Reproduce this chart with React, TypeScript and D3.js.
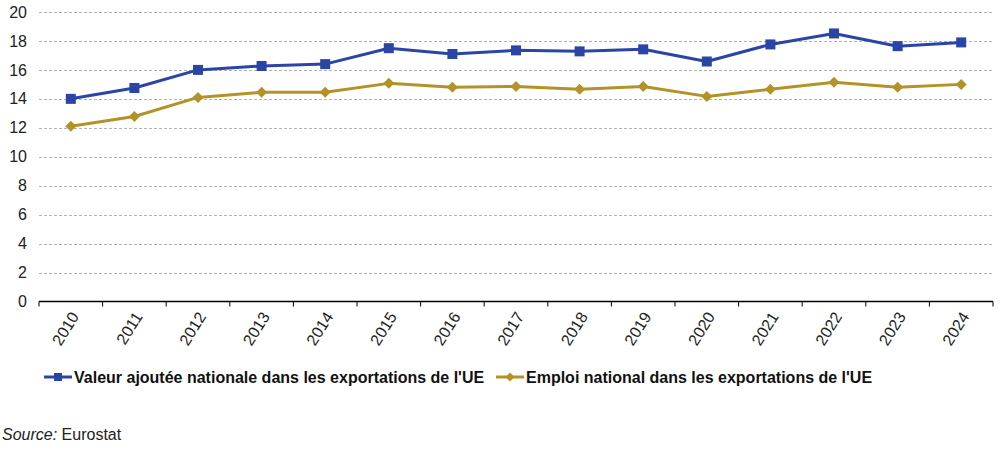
import * as d3 from "d3";

const years = ["2010", "2011", "2012", "2013", "2014", "2015", "2016", "2017", "2018", "2019", "2020", "2021", "2022", "2023", "2024"];
const valeurAjoutee = [14.0, 14.75, 16.0, 16.27, 16.4, 17.5, 17.1, 17.35, 17.28, 17.42, 16.58, 17.76, 18.52, 17.64, 17.9];
const emploi = [12.1, 12.78, 14.1, 14.45, 14.45, 15.07, 14.8, 14.86, 14.67, 14.86, 14.17, 14.66, 15.14, 14.8, 15.0];
const yTicks = [0, 2, 4, 6, 8, 10, 12, 14, 16, 18, 20];

const W = 999;
const H = 454;
const margin = { left: 39, right: 6, top: 12, bottom: 153 };
const font = "Arial, 'Liberation Sans', sans-serif";

const series = [
  { name: "Valeur ajoutée nationale dans les exportations de l'UE", values: valeurAjoutee, color: "#2a45a6", marker: "square" },
  { name: "Emploi national dans les exportations de l'UE", values: emploi, color: "#b39326", marker: "diamond" },
];

export default function App() {
  const x = d3
    .scaleBand()
    .domain(years)
    .range([margin.left, W - margin.right]);
  const y = d3
    .scaleLinear()
    .domain([0, 20])
    .range([H - margin.bottom + 0.5, margin.top]);
  const cx = (d: string) => x(d)! + x.bandwidth() / 2;

  const line = d3
    .line<number>()
    .x((_, i) => cx(years[i]))
    .y((v) => y(v));

  const marker = (kind: string, px: number, py: number, color: string, key: string) =>
    kind === "square" ? (
      <rect key={key} x={px - 5} y={py - 5} width={10} height={10} fill={color} />
    ) : (
      <path key={key} d={`M${px},${py - 5.5}L${px + 5.5},${py}L${px},${py + 5.5}L${px - 5.5},${py}Z`} fill={color} />
    );

  const legendPos = [44, 496];

  return (
    <svg
      width={W}
      height={H}
      style={{ position: "absolute", left: 0, top: 0, background: "#fff" }}
      fontFamily={font}
    >
      {/* grid */}
      {yTicks.slice(1).map((t) => (
        <line
          key={t}
          x1={margin.left}
          x2={W - margin.right}
          y1={Math.round(y(t)) + 0.5}
          y2={Math.round(y(t)) + 0.5}
          stroke="#b4b4b4"
          strokeWidth={1}
          strokeDasharray="3,2"
        />
      ))}
      {/* y labels */}
      {yTicks.map((t) => (
        <text key={t} x={27} y={y(t)} dy="0.35em" fontSize={16} textAnchor="end" fill="#222">
          {t}
        </text>
      ))}
      {/* x axis */}
      <line x1={margin.left} x2={W - margin.right} y1={y(0)} y2={y(0)} stroke="#000" strokeWidth={1.3} />
      {years.map((yr) => (
        <line key={yr} x1={x(yr)!} x2={x(yr)!} y1={y(0)} y2={y(0) + 5} stroke="#000" strokeWidth={1} />
      ))}
      <line x1={W - margin.right} x2={W - margin.right} y1={y(0)} y2={y(0) + 5} stroke="#000" />
      {years.map((yr) => (
        <text
          key={yr}
          transform={`translate(${cx(yr) + 4},${y(0) + 12}) rotate(-58)`}
          textAnchor="end"
          dy="0.35em"
          fontSize={16}
          fill="#222"
        >
          {yr}
        </text>
      ))}
      {/* series */}
      {series.map((s) => (
        <g key={s.name}>
          <path d={line(s.values)!} fill="none" stroke={s.color} strokeWidth={3} strokeLinejoin="round" />
          {s.values.map((v, i) => marker(s.marker, cx(years[i]), y(v), s.color, `${s.name}-${i}`))}
        </g>
      ))}
      {/* legend */}
      {series.map((s, i) => (
        <g key={s.name} transform={`translate(${legendPos[i]},377)`}>
          <line x1={0} x2={28} y1={0} y2={0} stroke={s.color} strokeWidth={3} />
          {s.marker === "square" ? (
            <rect x={10} y={-4} width={8} height={8} fill={s.color} />
          ) : (
            <path d="M14,-4.5L18.5,0L14,4.5L9.5,0Z" fill={s.color} />
          )}
          <text x={30} y={0} dy="0.35em" fontSize={16} fontWeight="bold" fill="#111">
            {s.name}
          </text>
        </g>
      ))}
      {/* source */}
      <text x={2} y={440} fontSize={16} fill="#222">
        <tspan fontStyle="italic">Source:</tspan> Eurostat
      </text>
    </svg>
  );
}
